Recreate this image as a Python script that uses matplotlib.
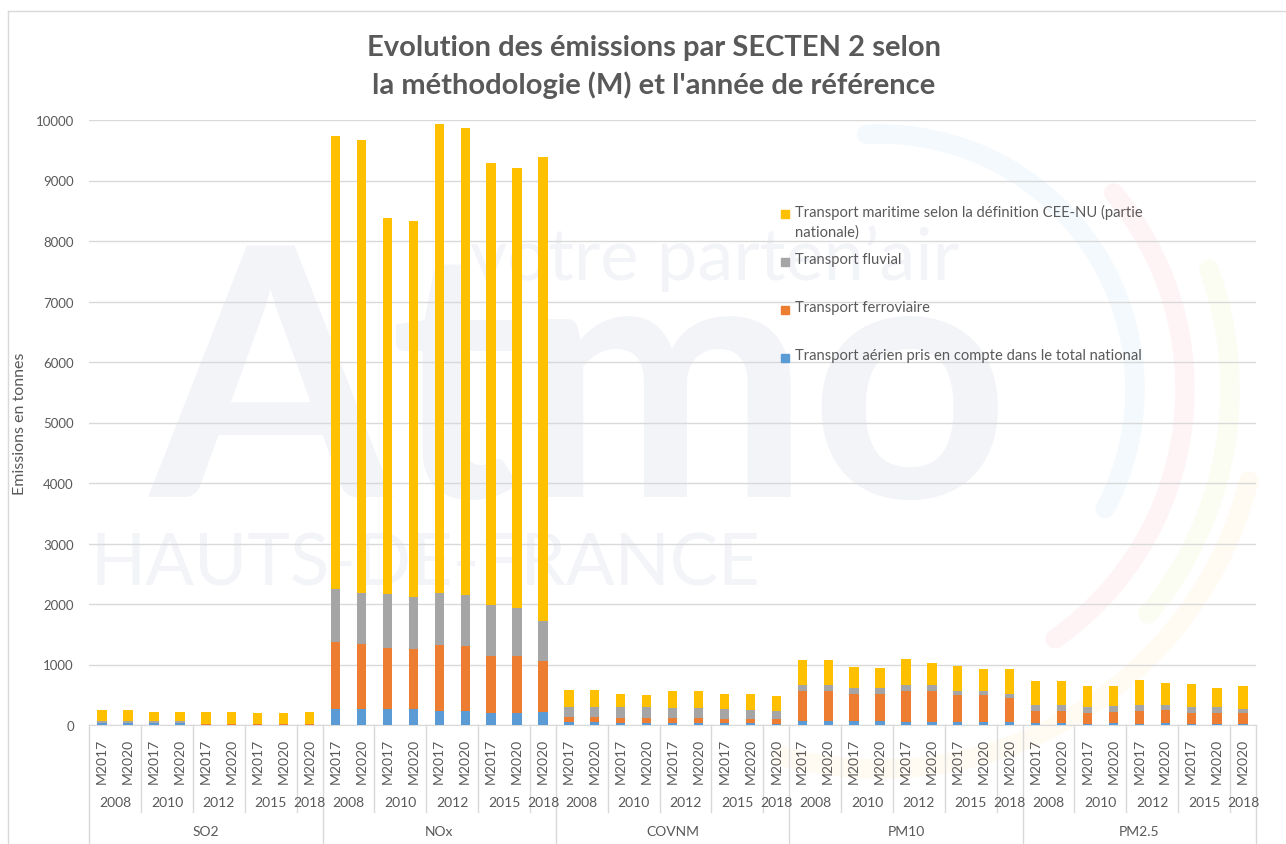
import numpy as np
import matplotlib
matplotlib.use("Agg")
import matplotlib.pyplot as plt
from matplotlib.patches import Arc, Rectangle
from matplotlib.lines import Line2D
from matplotlib.transforms import blended_transform_factory

plt.rcParams["font.family"] = ["Lato", "DejaVu Sans"]

W, H = 1286, 845

pollutants = ["SO2", "NOx", "COVNM", "PM10", "PM2.5"]
years = ["2008", "2010", "2012", "2015", "2018"]
methods_per_year = [["M2017", "M2020"], ["M2017", "M2020"], ["M2017", "M2020"],
                    ["M2017", "M2020"], ["M2020"]]

series_names = [
    "Transport aérien pris en compte dans le total national",
    "Transport ferroviaire",
    "Transport fluvial",
    "Transport maritime selon la définition CEE-NU (partie\nnationale)",
]
series_colors = ["#5B9BD5", "#ED7D31", "#A5A5A5", "#FFC000"]

# one value per bar: 9 bars per pollutant (SO2, NOx, COVNM, PM10, PM2.5)
aerien = [
    30, 30, 30, 30, 8, 8, 6, 6, 6,
    264, 264, 264, 264, 231, 231, 204, 204, 220,
    44, 44, 39, 39, 28, 28, 28, 28, 22,
    61, 61, 61, 61, 44, 44, 44, 44, 44,
    28, 28, 17, 28, 17, 28, 17, 17, 17,
]
ferroviaire = [
    3, 3, 3, 3, 3, 3, 3, 3, 3,
    1102, 1075, 1009, 992, 1091, 1080, 942, 942, 838,
    83, 83, 71, 71, 82, 82, 66, 66, 72,
    495, 495, 457, 457, 523, 523, 446, 446, 402,
    209, 209, 187, 192, 220, 225, 176, 187, 176,
]
fluvial = [
    40, 28, 40, 28, 10, 10, 10, 10, 10,
    882, 848, 892, 865, 854, 838, 837, 793, 661,
    176, 176, 182, 182, 171, 171, 176, 159, 132,
    100, 100, 99, 99, 100, 100, 77, 77, 72,
    99, 99, 99, 100, 99, 83, 99, 88, 77,
]
maritime = [
    180, 192, 147, 159, 188, 188, 174, 174, 190,
    7490, 7480, 6215, 6210, 7758, 7719, 7306, 7268, 7669,
    270, 270, 226, 209, 275, 275, 248, 265, 259,
    418, 418, 347, 331, 429, 358, 414, 353, 402,
    391, 391, 336, 319, 408, 353, 380, 325, 369,
]

series = [aerien, ferroviaire, fluvial, maritime]

tick_labels = [m for _ in pollutants for ms in methods_per_year for m in ms]
x = np.arange(len(tick_labels))

fig = plt.figure(figsize=(W / 100, H / 100), dpi=100)
fig.patch.set_facecolor("white")


def fx(px):
    return px / W


def fy(py):
    return 1 - py / H


# faint watermark behind the plot
wm = "#F3F4F8"
fig.text(fx(150), fy(497), "Atmo", fontsize=250, fontweight="bold", color=wm,
         ha="left", va="baseline", zorder=-5)
fig.text(fx(90), fy(586), "HAUTS-DE-FRANCE", fontsize=52, color=wm,
         ha="left", va="baseline", zorder=-5)
fig.text(fx(470), fy(280), "votre parten\u2019air", fontsize=52, color=wm,
         ha="left", va="baseline", zorder=-5)
arcs = [
    (255, -28, 93, "#F3F9FD"),
    (305, -55, 40, "#FEF4F6"),
    (350, -40, 20, "#FBFCF2"),
    (380, -105, -14, "#FFFAF2"),
]
for r, t1, t2, c in arcs:
    a = Arc((880 / 100, (H - 390) / 100), 2 * r / 100, 2 * r / 100,
            theta1=t1, theta2=t2, transform=fig.dpi_scale_trans,
            color=c, lw=14, zorder=-4)
    a.set_capstyle("round")
    fig.add_artist(a)

# chart area border
fig.add_artist(Line2D([fx(8), 1], [fy(12), fy(12)], color="#D9D9D9", lw=1))
fig.add_artist(Line2D([fx(8), fx(8)], [fy(12), 0], color="#D9D9D9", lw=1))

left, right, top, bottom = 89.2, 1256, 121, 726
ax = fig.add_axes([fx(left), fy(bottom), (right - left) / W, (bottom - top) / H])
ax.patch.set_visible(False)

bottoms = np.zeros(len(x))
for vals, color, name in zip(series, series_colors, series_names):
    ax.bar(x, vals, width=0.36, bottom=bottoms, color=color, zorder=3, label=name)
    bottoms = bottoms + np.array(vals)

ax.set_xlim(-0.5, len(x) - 0.5)
ax.set_ylim(0, 10000)
ax.set_yticks(np.arange(0, 10001, 1000))
ax.yaxis.grid(True, color="#D9D9D9", lw=1)
ax.set_axisbelow(True)
for s in ["left", "top", "right"]:
    ax.spines[s].set_visible(False)
ax.spines["bottom"].set_color("#D9D9D9")
ax.tick_params(axis="y", length=0, pad=11, labelsize=9.5, labelcolor="#595959")
ax.set_xticks(x)
ax.set_xticklabels(tick_labels, rotation=90, fontsize=10, color="#595959")
ax.tick_params(axis="x", length=0, pad=9)
ax.set_ylabel("Emissions en tonnes", fontsize=11.5, color="#595959")
ax.yaxis.set_label_coords(-(left - 27) / (right - left), 0.5)

# multi-level category axis
trans = blended_transform_factory(ax.transData, ax.transAxes)
ph = bottom - top
y_year_lab = -(803 - bottom) / ph
y_pol_lab = -(832 - bottom) / ph
y_year_sep = -(813 - bottom) / ph
y_pol_sep = -(H + 5 - bottom) / ph
pos = 0
for p in pollutants:
    start = pos
    ax.add_line(Line2D([pos - 0.5, pos - 0.5], [0, y_pol_sep], transform=trans,
                       color="#D9D9D9", lw=1, clip_on=False))
    for yr, ms in zip(years, methods_per_year):
        if pos != start:
            ax.add_line(Line2D([pos - 0.5, pos - 0.5], [0, y_year_sep], transform=trans,
                               color="#D9D9D9", lw=1, clip_on=False))
        ax.text(pos + (len(ms) - 1) / 2, y_year_lab, yr, transform=trans,
                ha="center", va="center", fontsize=10, color="#595959")
        pos += len(ms)
    ax.text((start + pos - 1) / 2, y_pol_lab, p, transform=trans,
            ha="center", va="center", fontsize=10, color="#595959")
ax.add_line(Line2D([pos - 0.5, pos - 0.5], [0, y_pol_sep], transform=trans,
                   color="#D9D9D9", lw=1, clip_on=False))

# legend, top entry first
leg_y = [215, 263, 311, 359]
for i, yy in enumerate(leg_y):
    k = len(series) - 1 - i
    fig.add_artist(Rectangle((fx(781), fy(yy + 4)), 8 / W, 8 / H,
                             transform=fig.transFigure, color=series_colors[k]))
    fig.text(fx(795), fy(yy - 10), series_names[k], fontsize=10.6, color="#595959",
             ha="left", va="top", linespacing=1.5)

fig.text(fx(654), fy(48), "Evolution des émissions par SECTEN 2 selon",
         fontsize=21, fontweight="bold", color="#595959", ha="center", va="center")
fig.text(fx(654), fy(85), "la méthodologie (M) et l'année de référence",
         fontsize=21, fontweight="bold", color="#595959", ha="center", va="center")

fig.savefig("out.png", dpi=100)
